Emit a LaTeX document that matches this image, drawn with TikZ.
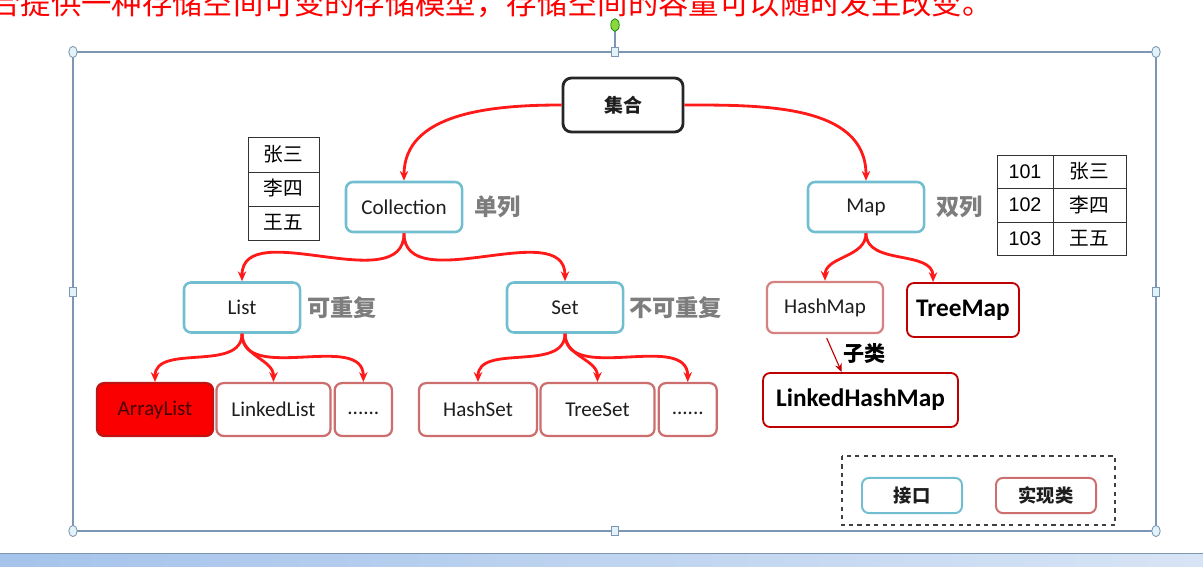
\documentclass[tikz,border=0pt]{standalone}
\usepackage{fontspec}
\setmainfont{Carlito}
\newfontfamily\cjk{Noto Sans CJK SC}
\newfontfamily\arialfont{Liberation Sans}
\usetikzlibrary{positioning, arrows.meta}

\definecolor{ifaceblue}{RGB}{112,190,208}
\definecolor{implred}{RGB}{205,110,110}
\definecolor{hashred}{RGB}{215,130,130}
\definecolor{darkred}{RGB}{192,0,0}
\definecolor{linkred}{RGB}{255,25,25}
\definecolor{arrred}{RGB}{250,0,0}
\definecolor{arrborder}{RGB}{190,20,20}
\definecolor{arrtext}{RGB}{70,0,0}
\definecolor{notegray}{RGB}{125,125,125}
\definecolor{textdark}{RGB}{30,30,30}
\definecolor{framegray}{RGB}{125,150,180}
\definecolor{handlefill}{RGB}{225,242,248}
\definecolor{handlegreen}{RGB}{140,215,60}
\definecolor{barblue}{RGB}{165,195,235}
\definecolor{barlight}{RGB}{215,228,245}

\begin{document}
\begin{tikzpicture}[x=0.025cm, y=0.025cm,
    box/.style={rectangle, rounded corners=5pt, fill=white, inner sep=0pt,
        text=textdark, font=\fontsize{15}{17}\selectfont},
    iface/.style={box, draw=ifaceblue, line width=1.8pt,
        minimum width=2.9cm, minimum height=1.25cm},
    impl/.style={box, draw=implred, line width=1.6pt,
        minimum width=2.9cm, minimum height=1.32cm},
    strong/.style={box, draw=darkred, line width=1.3pt, text=black,
        minimum height=1.35cm, font=\fontsize{18}{20}\selectfont\bfseries},
    note/.style={inner sep=0pt, text=notegray,
        font=\cjk\bfseries\fontsize{16.5}{18}\selectfont},
    cell/.style={inner sep=0pt, font=\cjk\fontsize{14}{16}\selectfont},
    link/.style={-{Stealth[length=7pt,width=6pt]}, draw=linkred, line width=2pt},
    sub/.style={-{Stealth[length=6pt,width=5pt]}, draw=darkred, line width=0.8pt},
    legendbox/.style={box, line width=1.4pt, minimum width=2.5cm, minimum height=0.88cm,
        font=\cjk\bfseries\fontsize{13}{15}\selectfont}
]
\useasboundingbox (0,0) rectangle (1203,-566);

% slide text above the frame, cut off by the window
\node[anchor=base west, inner sep=0pt, text=red, font=\cjk\fontsize{21.6}{24}\selectfont]
  (slidetext) at (-10,-14) {合提供一种存储空间可变的存储模型，存储空间的容量可以随时发生改变。};

% selection frame and its handles
\draw[framegray, line width=1.2pt] (73,-52) rectangle (1156,-531);
\draw[framegray, line width=0.8pt] (615,-31) -- (615,-52);
\draw[fill=handlegreen, draw=green!50!black, line width=0.5pt] (615,-25) ellipse [x radius=3pt, y radius=4.5pt];
\foreach \hx/\hy in {73/-52, 1156/-52, 73/-531, 1156/-531}
  \draw[fill=handlefill, draw=framegray, line width=0.6pt] (\hx,\hy) ellipse [x radius=3pt, y radius=4pt];
\foreach \hx/\hy in {615/-52, 73/-292, 1156/-292, 615/-531}
  \draw[fill=handlefill, draw=framegray, line width=0.6pt] (\hx-3.5,\hy-4.5) rectangle (\hx+3.5,\hy+4.5);

% window bar at the bottom
\shade[left color=barblue, right color=barlight] (0,-553) rectangle (1203,-566);
\draw[framegray] (0,-553) -- (1203,-553);

% root
\node[box, draw=black!85, line width=2pt, rounded corners=6pt, minimum width=3cm, minimum height=1.35cm,
  font=\cjk\bfseries\fontsize{13.5}{15}\selectfont] (root) at (623,-105) {集合};

% interfaces
\node[iface] (coll) at (404,-207) {Collection};
\node[iface] (map) at (866,-207) {Map};
\node[iface] (list) at (242,-307.5) {List};
\node[iface] (set) at (565,-307.5) {Set};

\node[note, right=0.28cm of coll] (collnote) {单列};
\node[note, right=0.28cm of map] (mapnote) {双列};
\node[note, right=0.15cm of list] (listnote) {可重复};
\node[note, right=0.12cm of set] (setnote) {不可重复};

% implementations
\node[impl, fill=arrred, draw=arrborder, text=arrtext] (alist) at (155,-409.5) {ArrayList};
\node[impl, minimum width=2.85cm, right=0.03cm of alist] (llist) {LinkedList};
\node[impl, minimum width=1.43cm, right=0.05cm of llist] (listmore) {\strut......};
\node[impl, minimum width=2.95cm] (hset) at (478,-409.5) {HashSet};
\node[impl, minimum width=2.85cm, right=0.03cm of hset] (tset) {TreeSet};
\node[impl, minimum width=1.45cm, right=0.05cm of tset] (setmore) {\strut......};
\node[impl, draw=hashred, minimum height=1.28cm] (hmap) at (825,-307.5) {HashMap};
\node[strong, minimum width=2.8cm] (tmap) at (963,-310) {TreeMap};
\node[strong, minimum width=4.87cm] (lhmap) at (860.5,-400) {LinkedHashMap};

% links
\draw[link] (root.west) to[out=180, in=90] (coll.north);
\draw[link] (root.east) to[out=0, in=90] (map.north);
\draw[link] (coll.south) to[out=-90, in=90] (list.north);
\draw[link] (coll.south) to[out=-90, in=90] (set.north);
\foreach \kid in {alist, llist, listmore}
  \draw[link] (list.south) to[out=-90, in=90] (\kid.north);
\foreach \kid in {hset, tset, setmore}
  \draw[link] (set.south) to[out=-90, in=90] (\kid.north);
\draw[link] (map.south) to[out=-90, in=90] (hmap.north);
\draw[link] (map.south) to[out=-90, in=90] (tmap.137);
\draw[sub, shorten <=3pt] (hmap.south) -- node[right=7pt, inner sep=0pt,
  font=\cjk\bfseries\fontsize{15}{17}\selectfont] (sublabel) {子类} (lhmap.124);

% tables
\draw[black!80, line width=0.7pt] (248,-137) rectangle (319,-240)
  (248,-172) -- (319,-172) (248,-206) -- (319,-206);
\foreach \nm [count=\i] in {张三,李四,王五}
  \node[cell] (name\i) at (283.5,-120-34*\i) {\nm};
\draw[black!80, line width=0.7pt] (997,-155) rectangle (1126,-255)
  (997,-188.5) -- (1126,-188.5) (997,-222) -- (1126,-222) (1053,-155) -- (1053,-255);
\foreach \id/\nm [count=\i] in {101/张三,102/李四,103/王五} {
  \node[cell, font=\arialfont\fontsize{14}{16}\selectfont] (id\i) at (1025,-138-33.5*\i) {\id};
  \node[cell] (val\i) at (1089.5,-138-33.5*\i) {\nm};
}

% legend
\draw[dashed, black!75, line width=1.2pt] (842,-456) rectangle (1115,-525);
\node[legendbox, draw=ifaceblue] (legiface) at (912,-495.5) {接口};
\node[legendbox, draw=implred] (legimpl) at (1046,-495.5) {实现类};

\end{tikzpicture}
\end{document}
